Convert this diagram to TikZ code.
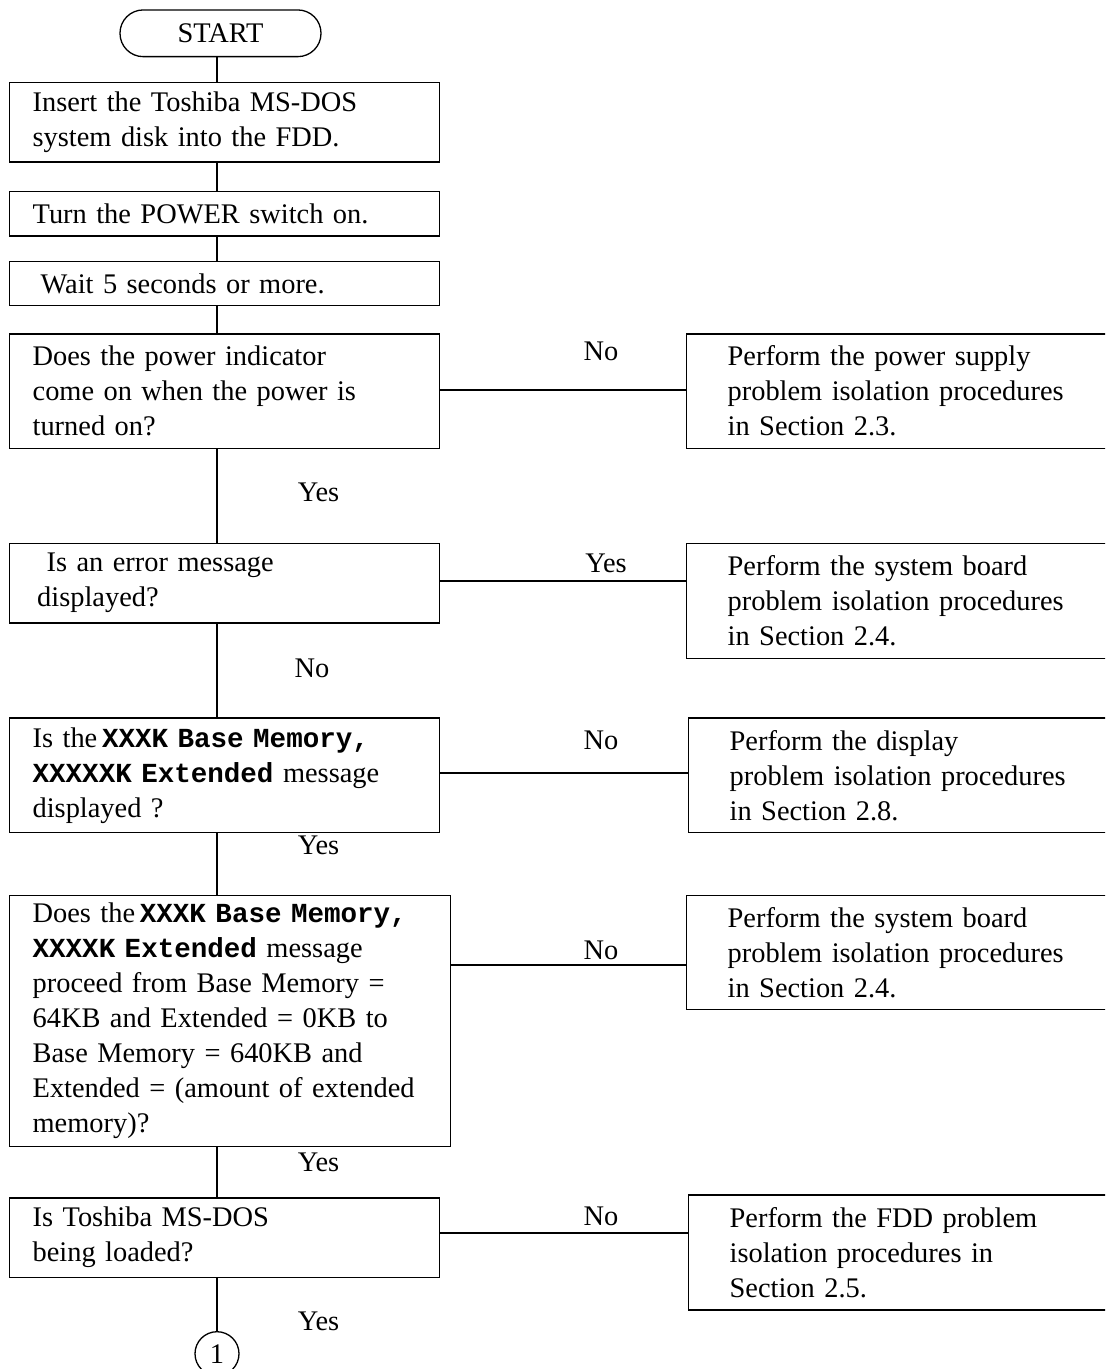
\documentclass[tikz,border=0pt]{standalone}
\usepackage{fontspec}
\setmainfont{Liberation Serif}
\setmonofont{Liberation Mono}[Scale=0.97]
\newcommand\mcode[1]{{\ttfamily\bfseries #1}}
\newcommand\fsz{\fontsize{14.2pt}{17.5pt}\selectfont}
\begin{document}
\begin{tikzpicture}[x=0.5pt,y=-0.5pt,
  every node/.style={font=\fsz},
  lbox/.style={draw, line width=0.65pt, anchor=north west, text width=191.5pt,
    inner xsep=11.75pt, inner ysep=0pt, align=left},
  rbox/.style={draw, line width=0.65pt, anchor=north west, text width=178.5pt,
    inner xsep=20.5pt, inner ysep=0pt, align=left},
  conn/.style={line width=0.7pt},
  hconn/.style={line width=0.9pt},
  lbl/.style={inner sep=0pt}
]
\useasboundingbox (0,0) rectangle (1105,1369);
\clip (0,0) rectangle (1105,1369);
\fill[white] (0,0) rectangle (1105,1369);

% terminal
\node[draw, line width=0.65pt, rounded corners=11.6pt, minimum width=100.5pt,
  minimum height=23.35pt, inner sep=0pt] (start) at (220.5,33.3) {START};

% left column
\node[lbox, minimum height=39.65pt] (b1) at (8.5,82) {Insert the Toshiba MS-DOS\\system disk into the FDD.};
\node[lbox, minimum height=22.3pt] (b2) at (8.5,190.7) {Turn the POWER switch on.};
\node[lbox, minimum height=22.15pt] (b3) at (8.5,260.7) {\hspace*{4pt}Wait 5 seconds or more.};
\node[lbox, minimum height=57.35pt] (b4) at (8.5,333.3) {Does the power indicator\\come on when the power is\\turned on?};
\node[lbox, minimum height=39.8pt] (b5) at (8.5,542.7) {\hspace*{7pt}Is an error message\\\hspace*{2.3pt}displayed?};
\node[lbox, minimum height=57.35pt] (b6) at (8.5,717.3) {Is the\,\mcode{XXXK Base Memory,}\\\mcode{XXXXXK Extended} message\\displayed ?};
\node[lbox, minimum height=125.65pt, text width=197pt] (b7) at (8.5,894.7) {Does the\,\mcode{XXXK Base Memory,}\\\mcode{XXXXK Extended} message\\proceed from Base Memory =\\64KB and Extended = 0KB to\\Base Memory = 640KB and\\Extended = (amount of extended\\memory)?};
\node[lbox, minimum height=39.7pt] (b8) at (8.5,1197.3) {Is Toshiba MS-DOS\\being loaded?};

% connector circle
\node[draw, circle, line width=0.65pt, minimum size=22pt, inner sep=0pt] (c1) at (217,1353.7) {1};

% right column
\node[rbox, minimum height=57.2pt] (r1) at (686,333.3) {Perform the power supply\\problem isolation procedures\\in Section 2.3.};
\node[rbox, minimum height=57.5pt] (r2) at (686,542.7) {Perform the system board\\problem isolation procedures\\in Section 2.4.};
\node[rbox, minimum height=57.35pt] (r3) at (688,717.3) {Perform the display\\problem isolation procedures\\in Section 2.8.};
\node[rbox, minimum height=57.15pt] (r4) at (686,894.7) {Perform the system board\\problem isolation procedures\\in Section 2.4.};
\node[rbox, minimum height=57.5pt] (r5) at (688,1194.3) {Perform the FDD problem\\isolation procedures in\\Section 2.5.};

% spine
\coordinate (sp) at (217,0);
\draw[conn] (start.south -| sp) -- (b1.north -| sp);
\draw[conn] (b1.south -| sp) -- (b2.north -| sp);
\draw[conn] (b2.south -| sp) -- (b3.north -| sp);
\draw[conn] (b3.south -| sp) -- (b4.north -| sp);
\draw[conn] (b4.south -| sp) -- (b5.north -| sp);
\draw[conn] (b5.south -| sp) -- (b6.north -| sp);
\draw[conn] (b6.south -| sp) -- (b7.north -| sp);
\draw[conn] (b7.south -| sp) -- (b8.north -| sp);
\draw[conn] (b8.south -| sp) -- (c1.north);

% branches
\coordinate (h4) at (0,389.7);
\coordinate (h5) at (0,580.7);
\coordinate (h6) at (0,772.7);
\coordinate (h7) at (0,965);
\coordinate (h8) at (0,1232.7);
\draw[hconn] (b4.east |- h4) -- (r1.west |- h4);
\draw[hconn] (b5.east |- h5) -- (r2.west |- h5);
\draw[hconn] (b6.east |- h6) -- (r3.west |- h6);
\draw[hconn] (b7.east |- h7) -- (r4.west |- h7);
\draw[hconn] (b8.east |- h8) -- (r5.west |- h8);

% labels
\node[lbl] (l1) at (601,351.7) {No};
\node[lbl] (l2) at (318.5,492.7) {Yes};
\node[lbl] (l3) at (606,563.3) {Yes};
\node[lbl] (l4) at (312,668.3) {No};
\node[lbl] (l5) at (601,740) {No};
\node[lbl] (l6) at (318.5,845) {Yes};
\node[lbl] (l7) at (601,950) {No};
\node[lbl] (l8) at (318.5,1162.7) {Yes};
\node[lbl] (l9) at (601,1216.7) {No};
\node[lbl] (l10) at (318.5,1321.7) {Yes};
\end{tikzpicture}
\end{document}
